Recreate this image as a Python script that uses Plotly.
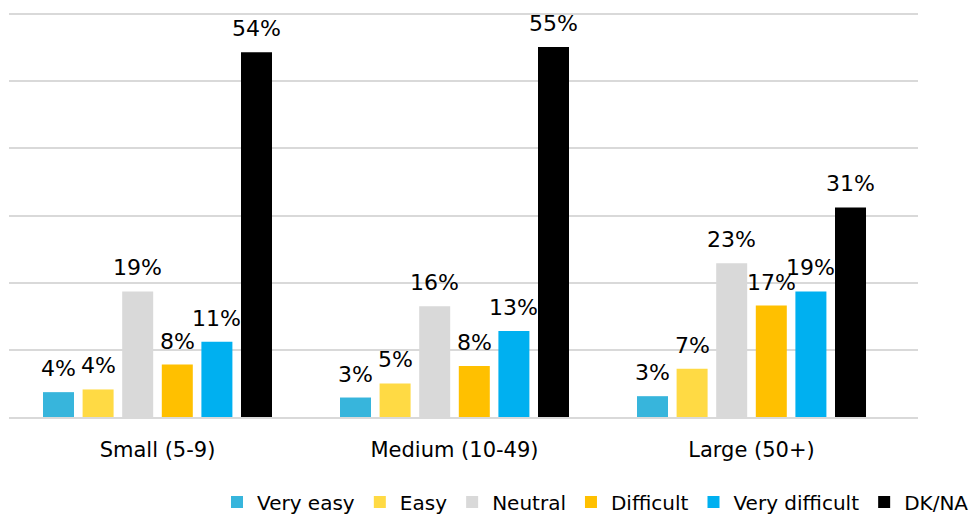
import plotly.graph_objects as go

# Survey responses by company size (share of respondents, %)
categories = ["Small (5-9)", "Medium (10-49)", "Large (50+)"]
series_names = ["Very easy", "Easy", "Neutral", "Difficult", "Very difficult", "DK/NA"]
very_easy = [3.7, 2.9, 3.1]
easy = [4.1, 5.0, 7.2]
neutral = [18.7, 16.5, 22.9]
difficult = [7.8, 7.6, 16.6]
very_difficult = [11.2, 12.8, 18.7]
dk_na = [54.3, 55.1, 31.2]
series_values = [very_easy, easy, neutral, difficult, very_difficult, dk_na]
colors = ["#37B5DC", "#FFDA44", "#D9D9D9", "#FFC000", "#00B0F0", "#000000"]

FONT = "DejaVu Sans"
BARGAP = 0.2
BARGROUPGAP = 0.217

fig = go.Figure()
for name, vals, col in zip(series_names, series_values, colors):
    fig.add_trace(go.Bar(
        name=name, x=categories, y=vals,
        marker=dict(color=col, line=dict(width=0)),
    ))

# Value labels above each bar, placed at the bar's slot within its group
n = len(series_names)
group_w = 1 - BARGAP
slot = group_w / n
annotations = []
for i, vals in enumerate(series_values):
    offset = -group_w / 2 + (i + 0.5) * slot
    for c, v in enumerate(vals):
        annotations.append(dict(
            x=c + offset, y=v, xref="x", yref="y",
            text=f"{v:.0f}%", showarrow=False,
            yanchor="bottom", xanchor="center", yshift=9,
            font=dict(family=FONT, size=22, color="#000000"),
        ))

fig.update_layout(
    width=974, height=516,
    margin=dict(l=9, r=56, t=13, b=99, autoexpand=False),
    paper_bgcolor="white", plot_bgcolor="white",
    barmode="group", bargap=BARGAP, bargroupgap=BARGROUPGAP,
    font=dict(family=FONT, size=21, color="#000000"),
    showlegend=True,
    legend=dict(
        orientation="h", xref="container", x=1.0, xanchor="right",
        yref="container", y=0.027, yanchor="middle",
        font=dict(family=FONT, size=20, color="#000000"),
        itemwidth=30, traceorder="normal", tracegroupgap=0,
    ),
    annotations=annotations,
)
fig.update_xaxes(
    range=[-0.5, 2.5606],
    showgrid=False, showline=True, linecolor="#D9D9D9", linewidth=2,
    ticks="", ticklabelstandoff=13,
    tickfont=dict(family=FONT, size=21, color="#000000"),
)
fig.update_yaxes(
    range=[0, 60.15], tickvals=[10, 20, 30, 40, 50, 60], showticklabels=False,
    showgrid=True, gridcolor="#D9D9D9", gridwidth=2,
    zeroline=False, showline=False,
)

fig.write_html("out.html")
